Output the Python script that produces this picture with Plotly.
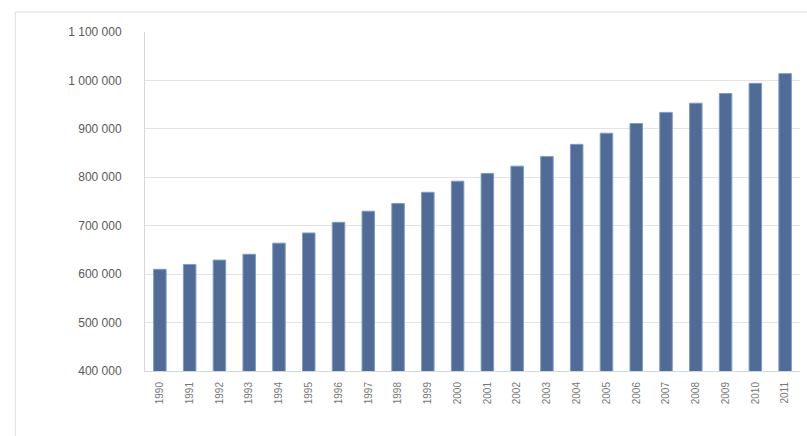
import plotly.graph_objects as go

years = [str(y) for y in range(1990, 2012)]
values = [610000, 620000, 629000, 641000, 664000, 685000, 707000, 730000, 746000, 769000,
          792000, 808000, 823000, 843000, 868000, 891000, 911000, 934000, 953000, 973000,
          994000, 1014000]
tick_vals = [400000, 500000, 600000, 700000, 800000, 900000, 1000000, 1100000]

fig = go.Figure()
fig.add_trace(go.Bar(
    x=years, y=values,
    marker=dict(color="#4f6b96", line=dict(color="#7d9bcc", width=1)),
))

fig.update_layout(
    width=807, height=436,
    margin=dict(l=145, r=7, t=32, b=65),
    paper_bgcolor="white", plot_bgcolor="white",
    separators=", ",
    bargap=0.58,
    showlegend=False,
    font=dict(family="Liberation Sans, Arial, sans-serif", color="#666666", size=9),
    xaxis=dict(tickangle=-90, showgrid=False, showline=True, linecolor="#cfd8e6",
               tickfont=dict(size=10, color="#777777"), ticks="", ticklabelstandoff=6),
    yaxis=dict(range=[400000, 1100000], tickvals=tick_vals, tickformat=",d",
               showgrid=True, gridcolor="#e3e3e3", gridwidth=1,
               showline=True, linecolor="#d8d8d8", zeroline=False,
               tickfont=dict(size=12, color="#5a5a5a"), ticks="", ticklen=0,
               ticklabelstandoff=20),
    shapes=[dict(type="line", xref="paper", yref="paper", x0=-0.198, x1=1.02,
                 y0=1.059, y1=1.059, line=dict(color="#dddddd", width=1)),
            dict(type="line", xref="paper", yref="paper", x0=-0.198, x1=-0.198,
                 y0=-0.2, y1=1.059, line=dict(color="#dddddd", width=1))],
)

fig.write_html("out.html")
